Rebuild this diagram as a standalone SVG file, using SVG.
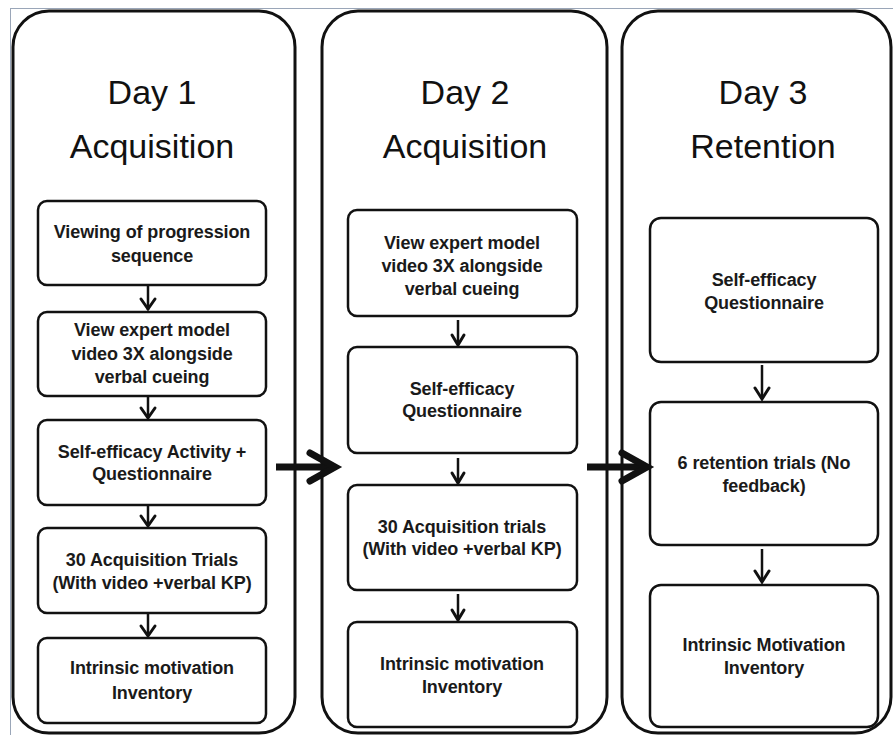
<svg xmlns="http://www.w3.org/2000/svg" width="893" height="735" viewBox="0 0 893 735">
<style>
.bg{fill:#fff}
.frame{fill:none;stroke:#9aa6b8;stroke-width:1}
.panel{fill:#fff;stroke:#111;stroke-width:3}
.box{fill:#fff;stroke:#111;stroke-width:2.5}
.title{font-family:"Liberation Sans",Arial,sans-serif;font-size:34px;fill:#111;text-anchor:middle}
.t{font-family:"Liberation Sans",Arial,sans-serif;font-size:18px;font-weight:bold;fill:#1a1a1a;text-anchor:middle;letter-spacing:-0.1px}
.sa{fill:none;stroke:#111;stroke-width:2.5}
.sh{fill:none;stroke:#111;stroke-width:3;stroke-linecap:round;stroke-linejoin:miter}
.ba{fill:none;stroke:#111;stroke-width:7}
.bh{fill:none;stroke:#111;stroke-width:7;stroke-linecap:round}
</style>
<rect class="bg" x="0" y="0" width="893" height="735"/>
<rect class="frame" x="10.5" y="8.5" width="900" height="740"/>
<g id="panel1">
<rect class="panel" x="13" y="11" width="282" height="722" rx="36"/>
<text class="title" x="152" y="104">Day 1</text>
<text class="title" x="152" y="158">Acquisition</text>
</g>
<g id="panel2">
<rect class="panel" x="322" y="11" width="285" height="722" rx="36"/>
<text class="title" x="465" y="104">Day 2</text>
<text class="title" x="465" y="158">Acquisition</text>
</g>
<g id="panel3">
<rect class="panel" x="622" y="11" width="269" height="722" rx="36"/>
<text class="title" x="763" y="104">Day 3</text>
<text class="title" x="763" y="158">Retention</text>
</g>
<g id="d1n1"><rect class="box" x="38" y="201" width="228" height="84" rx="9"/>
<text class="t" x="152" y="238">Viewing of progression</text><text class="t" x="152" y="262">sequence</text></g>
<g id="d1n2"><rect class="box" x="38" y="312" width="228" height="84" rx="9"/>
<text class="t" x="152" y="336">View expert model</text><text class="t" x="152" y="360">video 3X alongside</text><text class="t" x="152" y="383">verbal cueing</text></g>
<g id="d1n3"><rect class="box" x="38" y="420" width="228" height="85" rx="9"/>
<text class="t" x="152" y="458">Self-efficacy Activity +</text><text class="t" x="152" y="480">Questionnaire</text></g>
<g id="d1n4"><rect class="box" x="38" y="528" width="228" height="85" rx="9"/>
<text class="t" x="152" y="566">30 Acquisition Trials</text><text class="t" x="152" y="589">(With video +verbal KP)</text></g>
<g id="d1n5"><rect class="box" x="38" y="638" width="228" height="85" rx="9"/>
<text class="t" x="152" y="674">Intrinsic motivation</text><text class="t" x="152" y="699">Inventory</text></g>
<g id="d2n1"><rect class="box" x="348" y="210" width="229" height="106" rx="9"/>
<text class="t" x="462" y="249">View expert model</text><text class="t" x="462" y="272">video 3X alongside</text><text class="t" x="462" y="295">verbal cueing</text></g>
<g id="d2n2"><rect class="box" x="348" y="347" width="229" height="106" rx="9"/>
<text class="t" x="462" y="395">Self-efficacy</text><text class="t" x="462" y="417">Questionnaire</text></g>
<g id="d2n3"><rect class="box" x="348" y="485" width="229" height="105" rx="9"/>
<text class="t" x="462" y="533">30 Acquisition trials</text><text class="t" x="462" y="555">(With video +verbal KP)</text></g>
<g id="d2n4"><rect class="box" x="348" y="622" width="229" height="105" rx="9"/>
<text class="t" x="462" y="670">Intrinsic motivation</text><text class="t" x="462" y="693">Inventory</text></g>
<g id="d3n1"><rect class="box" x="650" y="218" width="228" height="144" rx="11"/>
<text class="t" x="764" y="286">Self-efficacy</text><text class="t" x="764" y="309">Questionnaire</text></g>
<g id="d3n2"><rect class="box" x="650" y="402" width="228" height="143" rx="11"/>
<text class="t" x="764" y="469">6 retention trials (No</text><text class="t" x="764" y="492">feedback)</text></g>
<g id="d3n3"><rect class="box" x="650" y="585" width="228" height="142" rx="11"/>
<text class="t" x="764" y="651">Intrinsic Motivation</text><text class="t" x="764" y="674">Inventory</text></g>
<g id="connectors">
<line class="sa" x1="148" y1="285" x2="148" y2="310"/><polyline class="sh" points="141,299 148,309 155,299"/>
<line class="sa" x1="148" y1="396" x2="148" y2="418"/><polyline class="sh" points="141,408 148,418 155,408"/>
<line class="sa" x1="148" y1="505" x2="148" y2="526"/><polyline class="sh" points="141,516 148,526 155,516"/>
<line class="sa" x1="148" y1="613" x2="148" y2="636"/><polyline class="sh" points="141,626 148,636 155,626"/>
<line class="sa" x1="458" y1="320" x2="458" y2="345"/><polyline class="sh" points="452,335 458,345 464,335"/>
<line class="sa" x1="458" y1="458" x2="458" y2="483"/><polyline class="sh" points="452,473 458,483 464,473"/>
<line class="sa" x1="458" y1="594" x2="458" y2="620"/><polyline class="sh" points="452,610 458,620 464,610"/>
<line class="sa" x1="762" y1="365" x2="762" y2="399"/><polyline class="sh" points="755,388 762,399 769,388"/>
<line class="sa" x1="762" y1="549" x2="762" y2="582"/><polyline class="sh" points="755,571 762,582 769,571"/>
<line class="ba" x1="276" y1="467" x2="333" y2="467"/><polyline class="bh" points="310,453 335,467 310,481"/>
<line class="ba" x1="587" y1="467" x2="645" y2="467"/><polyline class="bh" points="622,453 647,467 622,481"/>
</g>
</svg>
